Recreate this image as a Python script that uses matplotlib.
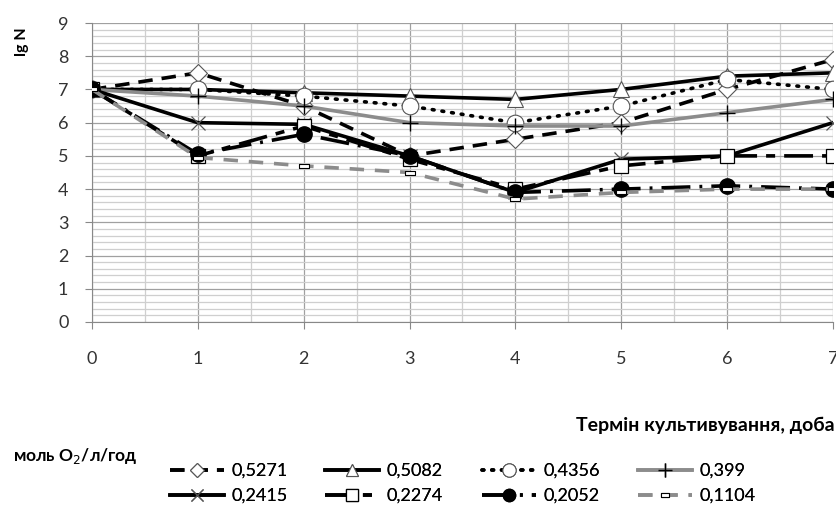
import matplotlib
matplotlib.use("Agg")
import matplotlib.pyplot as plt
from matplotlib.ticker import MultipleLocator

plt.rcParams['font.family'] = ['Lato', 'DejaVu Sans']

days = [0, 1, 2, 3, 4, 5, 6, 7]
labels = ["0,5271", "0,5082", "0,4356", "0,399", "0,2415", "0,2274", "0,2052", "0,1104"]
s_5271 = [7.0, 7.5, 6.5, 5.0, 5.5, 6.0, 7.0, 7.9]
s_5082 = [7.0, 7.0, 6.9, 6.8, 6.7, 7.0, 7.4, 7.5]
s_4356 = [7.0, 7.0, 6.8, 6.5, 6.0, 6.5, 7.3, 7.0]
s_399 = [7.0, 6.8, 6.5, 6.0, 5.9, 5.9, 6.3, 6.7]
s_2415 = [7.0, 6.0, 5.95, 5.0, 3.9, 4.9, 5.0, 6.0]
s_2274 = [7.0, 5.0, 5.9, 4.9, 4.0, 4.7, 5.0, 5.0]
s_2052 = [7.0, 5.05, 5.65, 5.0, 3.9, 4.0, 4.1, 4.0]
s_1104 = [7.0, 4.95, 4.7, 4.5, 3.7, 3.9, 4.0, 4.0]

W, H = 837, 507
fig = plt.figure(figsize=(W / 100, H / 100), dpi=100)
ax = fig.add_axes([92 / W, 1 - 322 / H, (833 - 92) / W, (322 - 23) / H])

gray = '#8c8c8c'
rect = [(-1, -0.45), (1, -0.45), (1, 0.45), (-1, 0.45), (-1, -0.45)]

styles = [
    dict(color='black', lw=2.6, ls=(0, (4, 2.5)), marker='D', ms=9, mfc='white', mec='#555555', mew=0.8),
    dict(color='black', lw=2.6, ls='-', marker='^', ms=11, mfc='white', mec='#555555', mew=0.8),
    dict(color='black', lw=2.6, ls=(0, (0.5, 2.2)), dash_capstyle='round', marker='o', ms=12, mfc='white', mec='#555555', mew=0.8),
    dict(color=gray, lw=2.6, ls='-', marker='+', ms=12, mec='black', mew=1.0),
    dict(color='black', lw=2.6, ls='-', marker='x', ms=10, mec='#555555', mew=0.9),
    dict(color='black', lw=2.6, ls=(0, (8, 2.5, 2.5, 2.5)), marker='s', ms=10, mfc='white', mec='black', mew=0.9),
    dict(color='black', lw=2.6, ls=(0, (8, 2.5, 0.8, 2.5)), marker='o', ms=11, mfc='black', mec='black'),
    dict(color=gray, lw=2.6, ls=(0, (4, 3)), marker=rect, ms=7, mfc='white', mec='black', mew=0.8),
]
series = [s_5271, s_5082, s_4356, s_399, s_2415, s_2274, s_2052, s_1104]

handles = []
for s, st, lab in zip(series, styles, labels):
    h, = ax.plot(days, s, label=lab, zorder=3, **st)
    handles.append(h)

ax.set_xlim(0, 7)
ax.set_ylim(0, 9)
ax.xaxis.set_major_locator(MultipleLocator(1))
ax.xaxis.set_minor_locator(MultipleLocator(0.5))
ax.yaxis.set_major_locator(MultipleLocator(1))
ax.yaxis.set_minor_locator(MultipleLocator(0.2))
ax.grid(which='major', color='#a0a0a0', lw=0.9, zorder=0)
ax.grid(which='minor', color='#cfcfcf', lw=0.9, zorder=0)
ax.set_axisbelow(True)
for sp in ['top', 'right']:
    ax.spines[sp].set_visible(False)
for sp in ['left', 'bottom']:
    ax.spines[sp].set_color('#888888')
ax.tick_params(which='major', direction='out', length=5, color='#888888', labelsize=13, labelcolor='#333333')
ax.tick_params(which='minor', length=0)
ax.tick_params(axis='x', pad=16)
ax.tick_params(axis='y', pad=12)

fig.text(22 / W, 1 - 42 / H, 'lg N', rotation=90, ha='center', va='center', fontsize=11.5, fontweight='bold')
fig.text(835 / W, 1 - 425 / H, 'Термін культивування, доба', ha='right', va='center', fontsize=14, fontweight='bold')
fig.text(13 / W, 1 - 456 / H, 'моль O$_2$/л/год', ha='left', va='center', fontsize=12.5, fontweight='bold')

col_x = [170, 325, 482, 638]
for c in range(4):
    lg = fig.legend(handles=[handles[c], handles[c + 4]], loc='upper left',
                    bbox_to_anchor=(col_x[c] / W, 1 - 463 / H), ncol=1, frameon=False,
                    fontsize=13, handlelength=3.0, handletextpad=0.4, labelspacing=0.5,
                    borderpad=0, borderaxespad=0, markerscale=0.8)
    fig.add_artist(lg)

fig.savefig('out.png', dpi=100)
